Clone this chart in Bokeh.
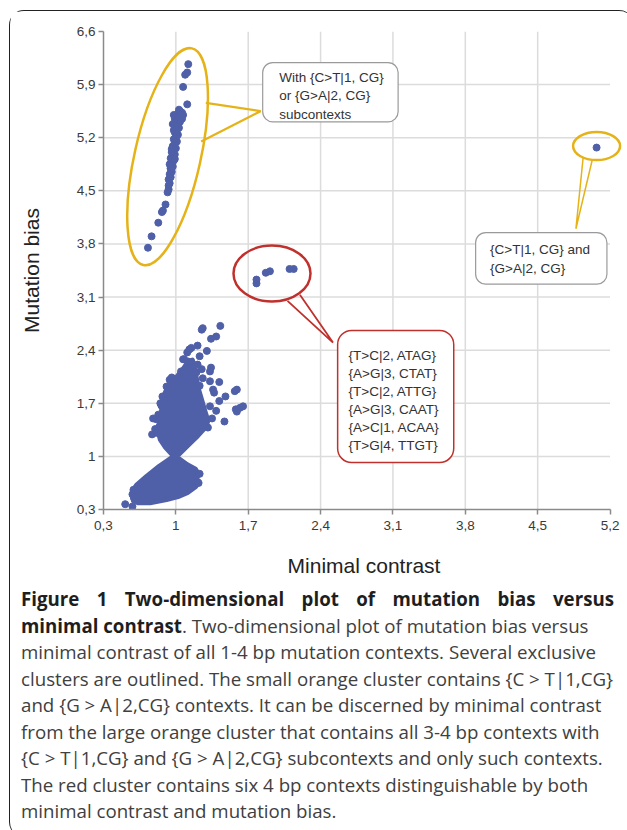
from bokeh.plotting import figure
from bokeh.models import Div
from bokeh.layouts import column
from bokeh.embed import file_html
from bokeh.resources import INLINE
from bokeh.core.properties import value

# ---------------- data ----------------
x_ticks = [0.3, 1.0, 1.7, 2.4, 3.1, 3.8, 4.5, 5.2]
x_tick_labels = ["0,3", "1", "1,7", "2,4", "3,1", "3,8", "4,5", "5,2"]
y_ticks = [0.3, 1.0, 1.7, 2.4, 3.1, 3.8, 4.5, 5.2, 5.9, 6.6]
y_tick_labels = ["0,3", "1", "1,7", "2,4", "3,1", "3,8", "4,5", "5,2", "5,9", "6,6"]

# dense core of the main (bow-tie) cluster: upper and lower lobes (envelopes)
core_upper_x = [0.98, 0.90, 0.85, 0.83, 0.84, 0.86, 0.87, 0.90, 0.95, 1.01, 1.07, 1.12, 1.16,
                1.18, 1.20, 1.22, 1.25, 1.28, 1.31, 1.29, 1.21, 1.12, 1.03]
core_upper_y = [1.00, 1.12, 1.22, 1.33, 1.45, 1.58, 1.72, 1.85, 1.95, 2.05, 2.15, 2.25, 2.27,
                2.15, 2.02, 1.88, 1.74, 1.60, 1.47, 1.39, 1.27, 1.15, 1.03]
core_lower_x = [0.98, 0.84, 0.72, 0.62, 0.58, 0.58, 0.63, 0.75, 0.91, 1.02, 1.11, 1.19, 1.22,
                1.20, 1.22, 1.19, 1.11, 1.03]
core_lower_y = [1.00, 0.87, 0.74, 0.62, 0.54, 0.45, 0.39, 0.39, 0.43, 0.47, 0.52, 0.60, 0.66,
                0.71, 0.76, 0.83, 0.89, 0.97]

# scattered points of the main cluster
main_x = [1.25, 1.26, 1.43, 1.34, 1.39, 1.21, 1.13, 1.11, 1.30, 1.23, 1.07, 1.12, 1.21, 1.34,
          1.33, 1.25, 0.94, 1.05, 1.26, 1.33, 1.42, 1.36, 1.37, 1.48, 1.57, 1.59, 1.42, 1.33,
          1.39, 1.58, 1.59, 1.62, 1.65, 1.47, 1.35, 1.31, 0.77, 0.81, 0.78, 0.84, 0.87, 0.86,
          0.91, 0.96, 1.08, 1.15, 0.81, 1.20, 1.23, 1.15, 0.97, 0.80, 0.83, 0.85, 0.89,
          0.51, 0.58, 0.60, 1.21, 1.23, 1.22, 0.58, 0.59]
main_y = [2.67, 2.69, 2.72, 2.55, 2.58, 2.46, 2.41, 2.37, 2.39, 2.32, 2.28, 2.25, 2.21, 2.17,
          2.12, 2.15, 2.01, 2.12, 2.03, 1.99, 1.98, 1.88, 1.84, 1.79, 1.86, 1.88, 1.73, 1.66,
          1.60, 1.62, 1.59, 1.64, 1.66, 1.46, 1.50, 1.38, 1.29, 1.49, 1.50, 1.39, 1.79, 1.67,
          1.92, 2.04, 2.28, 2.43, 1.31, 2.11, 1.93, 1.99, 1.92, 1.36, 1.55, 1.70, 1.74,
          0.37, 0.34, 0.43, 0.66, 0.77, 0.65, 0.50, 0.56]

# large orange cluster ({C>T|1, CG} / {G>A|2, CG} subcontexts)
orange_x = [0.73, 0.765, 0.83, 0.865, 0.875, 0.90,
            0.92, 0.93, 0.93, 0.94, 0.93, 0.95, 0.94, 0.96, 0.95, 0.97, 0.94, 0.96, 0.98, 0.95,
            0.97, 0.99, 0.96, 0.98, 1.00, 0.97, 0.99, 1.01, 0.98, 1.00, 1.02, 0.99, 1.01, 1.03,
            1.00, 1.02, 1.04, 1.01, 1.03, 1.05, 1.02, 1.04, 1.06, 1.03, 0.99, 1.06, 1.07, 0.98,
            0.97, 1.00, 0.96, 0.99, 0.95, 0.98,
            1.11, 1.07, 1.09, 1.11, 1.12]
orange_y = [3.75, 3.90, 4.08, 4.22, 4.24, 4.32,
            4.48, 4.52, 4.57, 4.60, 4.65, 4.68, 4.72, 4.75, 4.79, 4.82, 4.85, 4.88, 4.90, 4.93,
            4.96, 4.98, 5.01, 5.04, 5.06, 5.09, 5.12, 5.15, 5.18, 5.21, 5.24, 5.27, 5.30, 5.33,
            5.36, 5.39, 5.41, 5.44, 5.47, 5.49, 5.52, 5.55, 5.53, 5.57, 5.45, 5.45, 5.50, 5.50,
            5.38, 5.20, 5.05, 4.92, 4.80, 5.30,
            5.64, 5.87, 6.03, 6.06, 6.17]

# red cluster (six 4 bp contexts)
red_x = [1.78, 1.78, 1.87, 1.91, 2.10, 2.14]
red_y = [3.28, 3.33, 3.42, 3.44, 3.47, 3.47]

# small orange cluster ({C>T|1, CG} and {G>A|2, CG})
single_x = [5.07]
single_y = [5.07]

# callout texts
callout_texts = [
    "With {C>T|1, CG}\nor {G>A|2, CG}\nsubcontexts",
    "{C>T|1, CG} and\n{G>A|2, CG}",
    "{T>C|2, ATAG}\n{A>G|3, CTAT}\n{T>C|2, ATTG}\n{A>G|3, CAAT}\n{A>C|1, ACAA}\n{T>G|4, TTGT}",
]

caption_lines = [
    "minimal contrast of all 1-4 bp mutation contexts. Several exclusive",
    "clusters are outlined. The small orange cluster contains {C &gt; T|1,CG}",
    "and {G &gt; A|2,CG} contexts. It can be discerned by minimal contrast",
    "from the large orange cluster that contains all 3-4 bp contexts with",
    "{C &gt; T|1,CG} and {G &gt; A|2,CG} subcontexts and only such contexts.",
    "The red cluster contains six 4 bp contexts distinguishable by both",
    "minimal contrast and mutation bias.",
]

# ---------------- style ----------------
DOT = "#4f60a8"
YEL = "#e5b318"
RED = "#c0302c"
GRID = "#dcdcdc"
AXIS = "#8a8a8a"
FONT = "Liberation Sans"

p = figure(width=614, height=570, x_range=(0.3, 5.34), y_range=(0.3, 6.6),
           output_backend="svg", toolbar_location=None,
           min_border_left=93, min_border_right=0, min_border_top=20, min_border_bottom=72)
p.outline_line_color = None
p.xgrid.grid_line_color = None
p.ygrid.grid_line_color = None

# grid lines drawn from the tick arrays (inner ticks only)
gx = x_ticks[1:-1]
p.segment(x0=gx, x1=gx, y0=[y_ticks[0]] * len(gx), y1=[y_ticks[-1]] * len(gx),
          line_color=GRID, line_width=1.5)
gy = y_ticks[1:-1]
p.segment(x0=[x_ticks[0]] * len(gy), x1=[x_ticks[-1]] * len(gy), y0=gy, y1=gy,
          line_color=GRID, line_width=1.5)

for ax, ticks, labels in ((p.xaxis[0], x_ticks, x_tick_labels), (p.yaxis[0], y_ticks, y_tick_labels)):
    ax.ticker = ticks
    ax.major_label_overrides = dict(zip(ticks, labels))
    ax.bounds = (ticks[0], ticks[-1])
    ax.axis_line_color = AXIS
    ax.axis_line_width = 1.5
    ax.major_tick_line_color = AXIS
    ax.major_tick_line_width = 1.5
    ax.major_tick_in = 0
    ax.major_tick_out = 5
    ax.minor_tick_line_color = None
    ax.major_label_text_font = FONT
    ax.major_label_text_font_size = "13.5px"
    ax.major_label_text_color = "#3a3a3a"
    ax.axis_label_text_font = FONT
    ax.axis_label_text_font_size = "21px"
    ax.axis_label_text_font_style = "normal"
    ax.axis_label_text_color = "#222222"

p.xaxis.axis_label = "Minimal contrast"
p.yaxis.axis_label = "Mutation bias"
p.xaxis.major_label_standoff = 6
p.yaxis.major_label_standoff = 3
p.xaxis.axis_label_standoff = 21
p.yaxis.axis_label_standoff = 31

# points
p.patch(core_upper_x, core_upper_y, fill_color=DOT, line_color=DOT, line_width=5, line_join="round")
p.patch(core_lower_x, core_lower_y, fill_color=DOT, line_color=DOT, line_width=5, line_join="round")
p.scatter(main_x, main_y, size=7, color=DOT)
p.scatter(orange_x, orange_y, size=7, color=DOT)
p.scatter(red_x, red_y, size=7, color=DOT)
p.scatter(single_x, single_y, size=7, color=DOT)

# outlines of the clusters
p.ellipse(x=[0.92], y=[4.95], width=[222], height=[66], angle=[1.35],
          width_units="screen", height_units="screen", fill_color=None, line_color=YEL, line_width=2.5)
p.ellipse(x=[5.07], y=[5.09], width=[47], height=[28], angle=[0.0],
          width_units="screen", height_units="screen", fill_color=None, line_color=YEL, line_width=2.5)
p.ellipse(x=[1.93], y=[3.41], width=[77], height=[56], angle=[0.0],
          width_units="screen", height_units="screen", fill_color=None, line_color=RED, line_width=2.5)

# pointers
p.line([1.29, 1.82, 1.245], [5.66, 5.55, 5.15], line_color=YEL, line_width=2.2)
p.line([4.94, 4.87, 5.03], [4.94, 4.00, 4.92], line_color=YEL, line_width=1.5)
p.line([2.08, 2.52, 2.20], [3.05, 2.50, 3.13], line_color=RED, line_width=1.8)

# callout boxes
p.quad(left=[1.84, 3.90], right=[3.15, 5.17], top=[6.19, 3.95], bottom=[5.41, 3.27],
       fill_color="white", line_color="#9a9a9a", line_width=1.2, border_radius=10)
p.quad(left=[2.565], right=[3.688], top=[2.66], bottom=[0.92],
       fill_color="white", line_color=RED, line_width=1.5, border_radius=14)

p.text(x=[2.00, 4.04], y=[6.09, 3.82], text=callout_texts[:2],
       text_font=value(FONT), text_font_size="13.5px", text_baseline="top",
       text_line_height=1.22, text_color="#333333")
p.text(x=[2.67], y=[2.43], text=callout_texts[2:],
       text_font=value(FONT), text_font_size="13.5px", text_baseline="top",
       text_line_height=1.2, text_color="#333333")

caption_html = (
    "<div style=\"font-family:'Open Sans'; font-size:18.7px; line-height:26.5px; color:#404040;"
    " box-sizing:content-box; padding:0 0 0 6px; width:593px;\">"
    "<div style=\"text-align:justify; text-align-last:justify; font-weight:bold; color:#1e1e1e;\">"
    "Figure 1 Two-dimensional plot of mutation bias versus</div>"
    "<div style=\"white-space:nowrap;\"><b style=\"color:#1e1e1e;\">minimal contrast</b>. "
    "Two-dimensional plot of mutation bias versus<br>" + "<br>".join(caption_lines) + "</div></div>"
)
caption = Div(text=caption_html, width=614, height=246)

layout = column(p, caption, styles={
    "margin-left": "9px",
    "margin-top": "10px",
    "border-left": "1.6px solid #222222",
    "border-top": "1.6px solid #222222",
    "border-radius": "15px 15px 0 15px",
})

open("out.html", "w").write(file_html(layout, INLINE))
